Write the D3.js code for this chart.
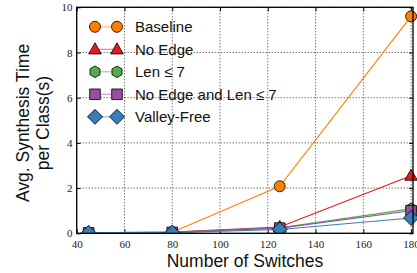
<!DOCTYPE html>
<html>
<head>
<meta charset="utf-8">
<script src="https://cdn.jsdelivr.net/npm/d3@7"></script>
<style>
    body { margin: 0; background: #fff; }
    .tick text { font-family: "Liberation Serif", serif; font-size: 11px; fill: #222; }
    .title { font-family: "Liberation Sans", Arial, sans-serif; font-size: 17.5px; fill: #111; }
    .legend text { font-family: "Liberation Sans", Arial, sans-serif; font-size: 15px; fill: #111; }
</style>
</head>
<body>
<div id="chart"></div>
<script>
// data
var switches = [45, 80, 125, 180];
var baseline = [0.02, 0.05, 2.08, 9.6];
var noEdge = [0.02, 0.05, 0.28, 2.55];
var len7 = [0.02, 0.04, 0.24, 1.08];
var noEdgeLen7 = [0.02, 0.04, 0.23, 1.0];
var valleyFree = [0.02, 0.03, 0.17, 0.68];
var xTicks = [40, 60, 80, 100, 120, 140, 160, 180];
var yTicks = [0, 2, 4, 6, 8, 10];

var series = [
    { name: 'Baseline', values: baseline, color: '#ff7f00', marker: 'circle' },
    { name: 'No Edge', values: noEdge, color: '#e41a1c', marker: 'triangle' },
    { name: 'Len \u2264 7', values: len7, color: '#4daf4a', marker: 'hexagon' },
    { name: 'No Edge and Len \u2264 7', values: noEdgeLen7, color: '#984ea3', marker: 'square' },
    { name: 'Valley-Free', values: valleyFree, color: '#377eb8', marker: 'diamond' }
];

const width = 417, height = 273;
const plot = { left: 76.7, right: 413, top: 7.3, bottom: 233.3 };

const svg = d3.select('#chart').append('svg')
    .attr('width', width)
    .attr('height', height);

const xScale = d3.scaleLinear().domain([40, 180.8]).range([plot.left, plot.right]);
const yScale = d3.scaleLinear().domain([0, 10]).range([plot.bottom, plot.top]);

// clip only at the bottom/left so the last markers poke out on the right
svg.append('clipPath').attr('id', 'clip')
    .append('rect')
    .attr('x', plot.left).attr('y', 0)
    .attr('width', width - plot.left).attr('height', plot.bottom);

//Draw grid
const grid = svg.append('g')
    .attr('stroke', '#222')
    .attr('stroke-width', 0.9)
    .attr('stroke-dasharray', '1,2');
grid.selectAll('.vline').data(xTicks).enter().append('line')
    .attr('x1', d => xScale(d)).attr('x2', d => xScale(d))
    .attr('y1', plot.top).attr('y2', plot.bottom);
grid.selectAll('.hline').data(yTicks).enter().append('line')
    .attr('x1', plot.left).attr('x2', plot.right)
    .attr('y1', d => yScale(d)).attr('y2', d => yScale(d));

// axes with inward ticks
const xAxis = svg.append('g')
    .attr('transform', `translate(0,${plot.bottom})`)
    .call(d3.axisBottom(xScale).tickValues(xTicks).tickSize(-4).tickPadding(6.4).tickFormat(d3.format('d')));
const xAxisTop = svg.append('g')
    .attr('transform', `translate(0,${plot.top})`)
    .call(d3.axisTop(xScale).tickValues(xTicks).tickSize(-4).tickFormat(''));
const yAxis = svg.append('g')
    .attr('transform', `translate(${plot.left},0)`)
    .call(d3.axisLeft(yScale).tickValues(yTicks).tickSize(-4).tickPadding(4.2));
const yAxisRight = svg.append('g')
    .attr('transform', `translate(${plot.right},0)`)
    .call(d3.axisRight(yScale).tickValues(yTicks).tickSize(-4).tickFormat(''));
[xAxis, xAxisTop, yAxis, yAxisRight].forEach(function (a) {
    a.select('.domain').remove();
    a.selectAll('.tick line').attr('stroke', '#000').attr('stroke-width', 1);
});

// marker shapes
function markerPath(type) {
    if (type === 'circle') return d3.symbol().type(d3.symbolCircle).size(95)();
    if (type === 'square') return 'M-5.3,-5.3H5.3V5.3H-5.3Z';
    if (type === 'diamond') return 'M0,-7.5L7.5,0L0,7.5L-7.5,0Z';
    if (type === 'triangle') return 'M0,-6.5L6.3,4.6L-6.3,4.6Z';
    // hexagon
    var pts = d3.range(6).map(function (i) {
        var a = Math.PI / 6 + i * Math.PI / 3;
        return [5.8 * Math.cos(a), 5.8 * Math.sin(a)];
    });
    return 'M' + pts.join('L') + 'Z';
}

const line = d3.line()
    .x((d, i) => xScale(switches[i]))
    .y(d => yScale(d));

const marks = svg.append('g').attr('clip-path', 'url(#clip)');
series.forEach(function (s) {
    const g = marks.append('g');
    g.append('path')
        .datum(s.values)
        .attr('fill', 'none')
        .attr('stroke', s.color)
        .attr('stroke-width', 1.1)
        .attr('d', line);
    g.selectAll('.dot')
        .data(s.values)
        .enter().append('path')
        .attr('transform', (d, i) => `translate(${xScale(switches[i])},${yScale(d)})`)
        .attr('d', markerPath(s.marker))
        .attr('fill', s.color)
        .attr('stroke', '#111')
        .attr('stroke-width', 0.9);
});

// frame
svg.append('rect')
    .attr('x', plot.left).attr('y', plot.top)
    .attr('width', plot.right - plot.left).attr('height', plot.bottom - plot.top)
    .attr('fill', 'none')
    .attr('stroke', '#000')
    .attr('stroke-width', 1.3);

// legend
const legend = svg.append('g').attr('class', 'legend');
series.forEach(function (s, i) {
    const yy = 26.8 + i * 22.5;
    const row = legend.append('g');
    row.append('line')
        .attr('x1', 95).attr('x2', 117).attr('y1', yy).attr('y2', yy)
        .attr('stroke', s.color).attr('stroke-opacity', 0.6).attr('stroke-width', 1.1);
    [95, 117].forEach(function (mx) {
        row.append('path')
            .attr('transform', `translate(${mx},${yy})`)
            .attr('d', markerPath(s.marker))
            .attr('fill', s.color)
            .attr('stroke', '#111')
            .attr('stroke-width', 0.9);
    });
    row.append('text')
        .attr('x', 135).attr('y', yy + 5.5)
        .text(s.name);
});

//x Axis Title
svg.append('text')
    .attr('class', 'title')
    .attr('x', 245).attr('y', 266.7)
    .attr('text-anchor', 'middle')
    .text('Number of Switches');

//y Axis Title
svg.append('text')
    .attr('class', 'title')
    .attr('transform', 'translate(29,123) rotate(-90)')
    .attr('text-anchor', 'middle')
    .text('Avg. Synthesis Time');
svg.append('text')
    .attr('class', 'title')
    .attr('transform', 'translate(48.5,123) rotate(-90)')
    .attr('text-anchor', 'middle')
    .text('per Class(s)');
</script>
</body>
</html>
